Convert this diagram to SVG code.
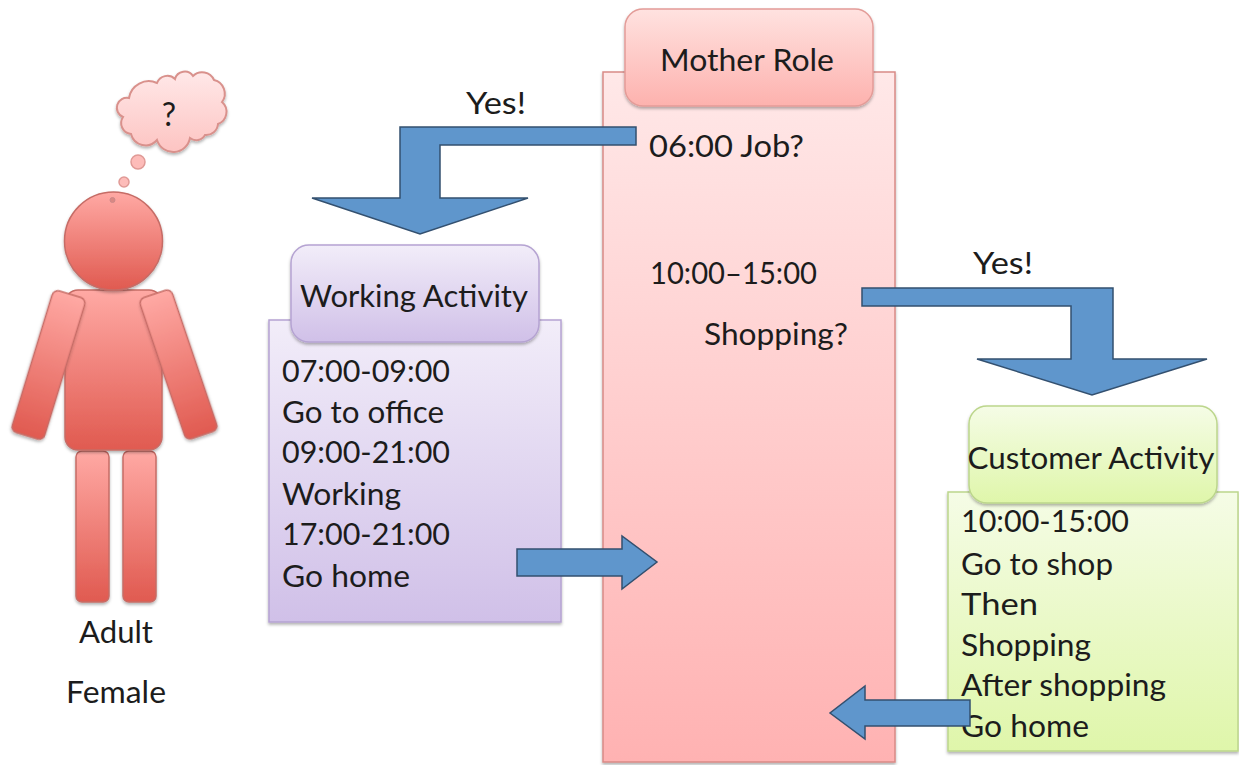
<svg xmlns="http://www.w3.org/2000/svg" width="1239" height="765" viewBox="0 0 1239 765">
<defs>
<linearGradient id="gRole" x1="0" y1="0" x2="0" y2="1"><stop offset="0" stop-color="#ffe8e8"/><stop offset="1" stop-color="#ffb2b2"/></linearGradient>
<linearGradient id="gRoleHead" x1="0" y1="0" x2="0" y2="1"><stop offset="0" stop-color="#ffe2e0"/><stop offset="1" stop-color="#fdb2ae"/></linearGradient>
<linearGradient id="gPurple" x1="0" y1="0" x2="0" y2="1"><stop offset="0" stop-color="#f2edf9"/><stop offset="1" stop-color="#d0c0e8"/></linearGradient>
<linearGradient id="gGreen" x1="0" y1="0" x2="0" y2="1"><stop offset="0" stop-color="#f5fce6"/><stop offset="1" stop-color="#dff6aa"/></linearGradient>
<linearGradient id="gBody" x1="0" y1="0" x2="0" y2="1"><stop offset="0" stop-color="#ffa9a4"/><stop offset="1" stop-color="#e05a50"/></linearGradient>
<linearGradient id="gCloud" x1="0" y1="0" x2="0" y2="1"><stop offset="0" stop-color="#ffe8e8"/><stop offset="1" stop-color="#fdc4c2"/></linearGradient>
<filter id="sh" x="-15%" y="-15%" width="130%" height="130%"><feDropShadow dx="0" dy="2" stdDeviation="1.5" flood-color="#000" flood-opacity="0.3"/></filter>
</defs>
<style>
text{font-family:"Lato","Open Sans",sans-serif;font-size:30px;fill:#1c1c1c}
.pt{fill:url(#gBody);stroke:#c66c66;stroke-width:1.500;filter:url(#sh)}
.arrow{fill:#5f96cc;stroke:#33506f;stroke-width:1.500}
</style>
<rect width="1239" height="765" fill="#fff"/>

<g id="person">
<rect class="pt" x="76" y="451" width="33" height="151" rx="6"/>
<rect class="pt" x="123" y="451" width="33" height="151" rx="6"/>
<rect class="pt" x="65" y="290" width="97" height="160" rx="13"/>
<rect class="pt" x="31.500" y="291" width="34" height="148" rx="6" transform="rotate(17 48.500 365)"/>
<rect class="pt" x="161.500" y="290" width="34" height="149" rx="6" transform="rotate(-18.700 178.500 364.500)"/>
<circle class="pt" cx="113.500" cy="241" r="49"/>
<circle cx="112.500" cy="200" r="2.500" fill="#d98883" stroke="#c88" stroke-width="1"/>
<text x="116" y="643" text-anchor="middle" textLength="74" lengthAdjust="spacingAndGlyphs">Adult</text>
<text x="116" y="703" text-anchor="middle" textLength="100" lengthAdjust="spacingAndGlyphs">Female</text>
</g>

<g id="thought">
<circle cx="124" cy="182" r="5" fill="#fdbcb9" stroke="#e09a96" stroke-width="1.500"/>
<circle cx="138" cy="162" r="7" fill="#fdbcb9" stroke="#e09a96" stroke-width="1.500"/>
<path d="M129 98 A20 20 0 0 1 157 83 A11 11 0 0 1 175 79 A10 10 0 0 1 193 76 A13 13 0 0 1 214 80 A14 14 0 0 1 222 102 A13 13 0 0 1 218 124 A12 12 0 0 1 205 135 A10 10 0 0 1 190 138 A17 17 0 0 1 157 140 A15 15 0 0 1 131 134 A11 11 0 0 1 123 117 A10 10 0 0 1 129 98Z" fill="url(#gCloud)" stroke="#d9918c" stroke-width="2" filter="url(#sh)"/>
<text x="169" y="126" text-anchor="middle" font-size="32" style="font-size:32px">?</text>
</g>

<g id="mother-role">
<rect x="603" y="72" width="292" height="690" fill="url(#gRole)" stroke="#d98a86" stroke-width="1.500" filter="url(#sh)"/>
<rect x="625" y="9" width="248" height="97" rx="18" fill="url(#gRoleHead)" stroke="#e39c98" stroke-width="1.500" filter="url(#sh)"/>
<text x="747" y="71" text-anchor="middle" textLength="174" lengthAdjust="spacingAndGlyphs">Mother Role</text>
<text x="649" y="157" textLength="155" lengthAdjust="spacingAndGlyphs">06:00 Job?</text>
<text x="650" y="284" textLength="167" lengthAdjust="spacingAndGlyphs">10:00–15:00</text>
<text x="704" y="345" textLength="144" lengthAdjust="spacingAndGlyphs">Shopping?</text>
</g>

<g id="working-activity">
<rect x="269" y="320" width="292" height="302" fill="url(#gPurple)" stroke="#b5a3d2" stroke-width="1.500" filter="url(#sh)"/>
<rect x="291" y="245" width="248" height="97" rx="18" fill="url(#gPurple)" stroke="#b5a3d2" stroke-width="1.500" filter="url(#sh)"/>
<text x="414" y="307" text-anchor="middle" textLength="228" lengthAdjust="spacingAndGlyphs">Working Activity</text>
<text x="282" y="382" textLength="168" lengthAdjust="spacingAndGlyphs">07:00-09:00</text>
<text x="282" y="423" textLength="162" lengthAdjust="spacingAndGlyphs">Go to office</text>
<text x="282" y="463" textLength="168" lengthAdjust="spacingAndGlyphs">09:00-21:00</text>
<text x="282" y="505" textLength="119" lengthAdjust="spacingAndGlyphs">Working</text>
<text x="282" y="545" textLength="168" lengthAdjust="spacingAndGlyphs">17:00-21:00</text>
<text x="282" y="587" textLength="128" lengthAdjust="spacingAndGlyphs">Go home</text>
</g>

<g id="customer-activity">
<rect x="948" y="492" width="290" height="259" fill="url(#gGreen)" stroke="#bcd68c" stroke-width="1.500" filter="url(#sh)"/>
<rect x="969" y="406" width="248" height="97" rx="18" fill="url(#gGreen)" stroke="#bcd68c" stroke-width="1.500" filter="url(#sh)"/>
<text x="1091" y="469" text-anchor="middle" textLength="247" lengthAdjust="spacingAndGlyphs">Customer Activity</text>
<text x="961" y="532" textLength="168" lengthAdjust="spacingAndGlyphs">10:00-15:00</text>
<text x="961" y="575" textLength="152" lengthAdjust="spacingAndGlyphs">Go to shop</text>
<text x="961" y="615" textLength="77" lengthAdjust="spacingAndGlyphs">Then</text>
<text x="961" y="656" textLength="130" lengthAdjust="spacingAndGlyphs">Shopping</text>
<text x="961" y="696" textLength="205" lengthAdjust="spacingAndGlyphs">After shopping</text>
<text x="961" y="737" textLength="128" lengthAdjust="spacingAndGlyphs">Go home</text>
</g>

<g id="connectors">
<path class="arrow" d="M636 127 L400 127 L400 198 L312 198 L420 234 L528 198 L440 198 L440 145 L636 145Z"/>
<path class="arrow" d="M862 288 L1113 288 L1113 359 L1207 359 L1092 395 L977 359 L1071 359 L1071 306 L862 306Z"/>
<path class="arrow" d="M517 549 L622 549 L622 536 L657 562 L622 589 L622 576 L517 576Z"/>
<path class="arrow" d="M970 700 L865 700 L865 686 L830 713 L865 739 L865 726 L970 726Z"/>
<text x="496" y="114" text-anchor="middle" textLength="60" lengthAdjust="spacingAndGlyphs">Yes!</text>
<text x="1003" y="274" text-anchor="middle" textLength="60" lengthAdjust="spacingAndGlyphs">Yes!</text>
</g>
</svg>
